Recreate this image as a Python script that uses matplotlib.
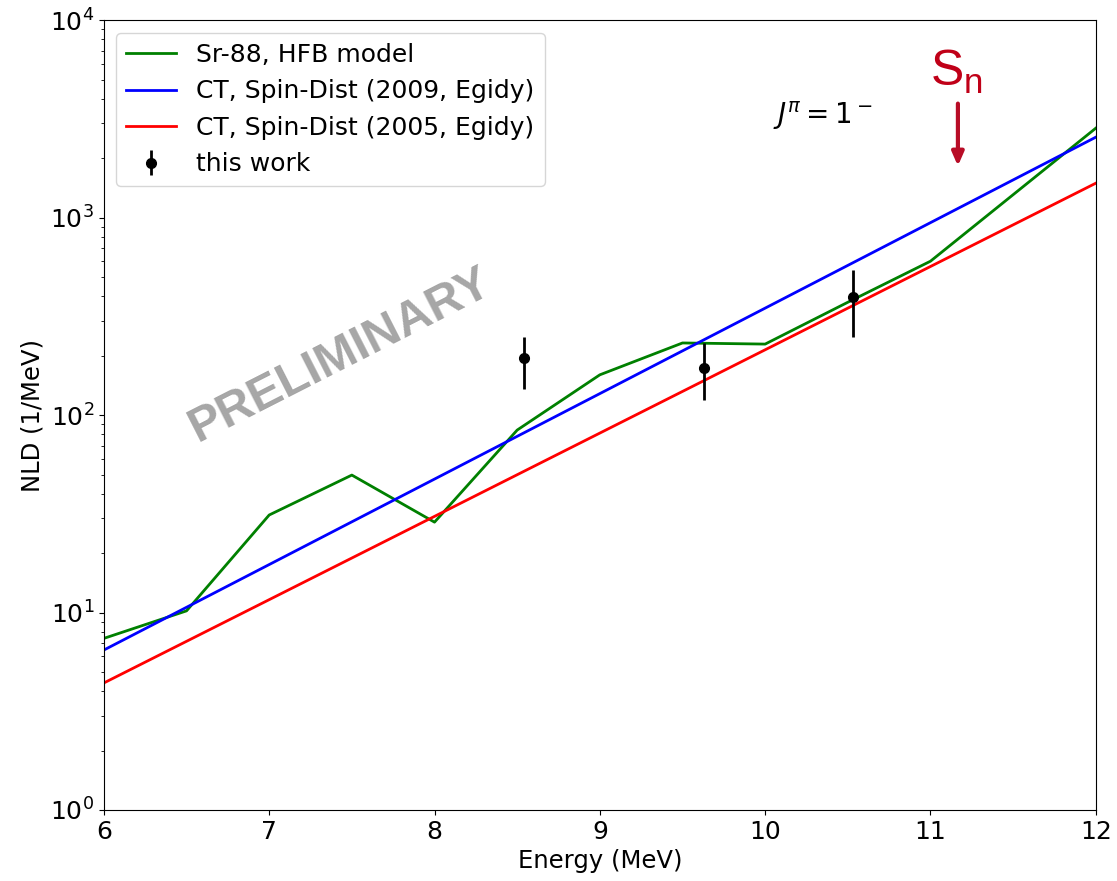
import matplotlib
matplotlib.use('Agg')
import matplotlib.pyplot as plt
import numpy as np

# HFB model (Sr-88)
e_hfb = [6.0, 6.5, 7.0, 7.5, 8.0, 8.5, 9.0, 9.5, 10.0, 10.5, 11.0, 12.0]
nld_hfb = [7.4, 10.2, 31.2, 49.7, 28.7, 84, 160, 232, 229, 373, 602, 2840]

# constant temperature, spin distribution
e_ct = [6.0, 12.0]
nld_ct09 = [6.46, 2557]
nld_ct05 = [4.40, 1495]

# this work
e_exp = [8.54, 9.63, 10.53]
nld_exp = [194, 173, 396]
err_lo = [59, 54, 148]
err_hi = [54, 59, 146]

fig, ax = plt.subplots(figsize=(11.17, 8.81), dpi=100)
plt.subplots_adjust(left=0.093, right=0.981, top=0.977, bottom=0.0806)

ax.plot(e_hfb, nld_hfb, color='g', lw=2, label='Sr-88, HFB model')
ax.plot(e_ct, nld_ct09, color='b', lw=2, label='CT, Spin-Dist (2009, Egidy)')
ax.plot(e_ct, nld_ct05, color='r', lw=2, label='CT, Spin-Dist (2005, Egidy)')
ax.errorbar(e_exp, nld_exp, yerr=[err_lo, err_hi], fmt='o', color='k',
            ms=7, elinewidth=2, label='this work')

ax.set_yscale('log')
ax.set_xlim(6, 12)
ax.set_ylim(1, 1e4)
ax.tick_params(labelsize=18)
ax.set_xlabel('Energy (MeV)', fontsize=17.5)
ax.set_ylabel('NLD (1/MeV)', fontsize=17.5)
ax.legend(loc='upper left', fontsize=18)

ax.text(10.35, 3300, r'$J^{\pi} = 1^-$', fontsize=20, ha='center', va='center')

# overlay annotations
ax.text(0.238, 0.576, 'PRELIMINARY', transform=ax.transAxes, rotation=27,
        fontsize=35, fontweight='bold', color='#a6a6a6', family='Liberation Sans',
        ha='center', va='center')
ax.text(0.86, 0.935, r'S$_\mathregular{n}$', transform=ax.transAxes,
        fontsize=36, color='#c00018', family='Liberation Sans',
        ha='center', va='center')
ax.annotate('', xy=(0.861, 0.812), xytext=(0.861, 0.898), xycoords='axes fraction',
            arrowprops=dict(arrowstyle='-|>,head_width=0.35,head_length=0.8',
                            color='#b80c26', lw=3))

plt.savefig('out.png', dpi=100)
